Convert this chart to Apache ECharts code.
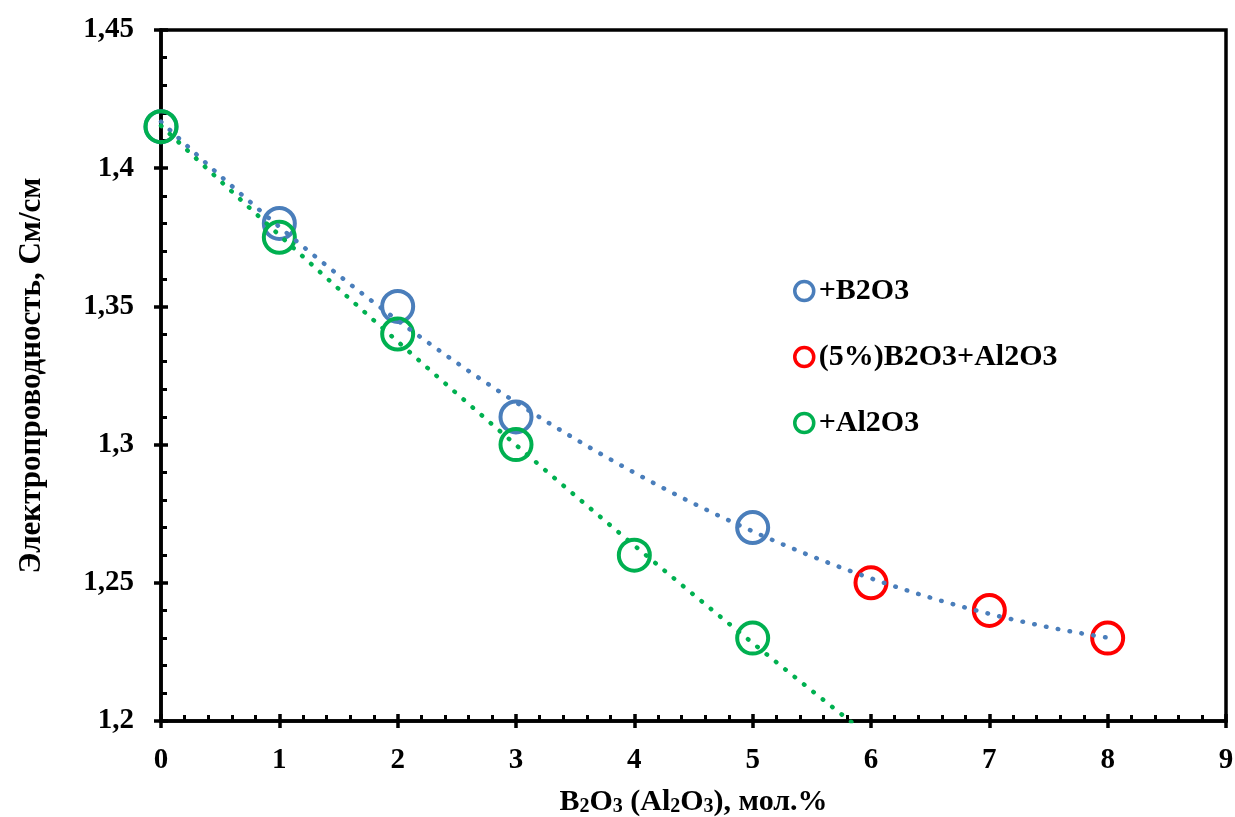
<!DOCTYPE html>
<html>
<head>
<meta charset="utf-8">
<script src="https://cdn.jsdelivr.net/npm/echarts@6/dist/echarts.min.js"></script>
<style>
  html, body { margin: 0; padding: 0; background: #ffffff; }
  #chart { width: 1235px; height: 817px; }
</style>
</head>
<body>
<div id="chart"></div>
<script>
// Measured conductivity, См/см
const b2o3X = [0, 1, 2, 3, 5];
const b2o3Y = [1.415, 1.38, 1.35, 1.31, 1.27];
const mixX = [6, 7, 8];
const mixY = [1.25, 1.24, 1.23];
const al2o3X = [0, 1, 2, 3, 4, 5];
const al2o3Y = [1.415, 1.375, 1.34, 1.30, 1.26, 1.23];

const seriesNames = ['+B2O3', '(5%)B2O3+Al2O3', '+Al2O3'];
const seriesColors = ['#4A7EBB', '#FF0000', '#00B050'];

const FONT = '"Liberation Serif", "Times New Roman", serif';

// least-squares polynomial of degree 2 (trend line)
function polyfit2(xs, ys) {
  let s = [0, 0, 0, 0, 0], t = [0, 0, 0];
  for (let i = 0; i < xs.length; i++) {
    let p = 1;
    for (let k = 0; k <= 4; k++) { s[k] += p; if (k <= 2) t[k] += p * ys[i]; p *= xs[i]; }
  }
  const A = [[s[0], s[1], s[2], t[0]], [s[1], s[2], s[3], t[1]], [s[2], s[3], s[4], t[2]]];
  for (let c = 0; c < 3; c++) {
    for (let r = c + 1; r < 3; r++) {
      const f = A[r][c] / A[c][c];
      for (let k = c; k < 4; k++) A[r][k] -= f * A[c][k];
    }
  }
  const co = [0, 0, 0];
  for (let r = 2; r >= 0; r--) {
    let v = A[r][3];
    for (let k = r + 1; k < 3; k++) v -= A[r][k] * co[k];
    co[r] = v / A[r][r];
  }
  return x => co[0] + co[1] * x + co[2] * x * x;
}

function trend(fn, x0, x1) {
  const pts = [];
  const n = 200;
  for (let i = 0; i <= n; i++) {
    const x = x0 + (x1 - x0) * i / n;
    pts.push([x, fn(x)]);
  }
  return pts;
}

const zip = (xs, ys) => xs.map((x, i) => [x, ys[i]]);

const blueFit = polyfit2(b2o3X.concat(mixX), b2o3Y.concat(mixY));
const greenFit = polyfit2(al2o3X, al2o3Y);

const chart = echarts.init(document.getElementById('chart'), null, { renderer: 'canvas' });

const textBase = { fontFamily: FONT, fontWeight: 'bold', color: '#000' };
const tickLabelStyle = Object.assign({ fontSize: 29 }, textBase);
const lineBlack = { show: true, lineStyle: { color: '#000', width: 3.5 } };

function markerSeries(name, data, color) {
  return {
    name, type: 'scatter', data, xAxisIndex: 0, yAxisIndex: 0,
    symbol: 'circle', symbolSize: 31,
    itemStyle: { color: 'rgba(255,255,255,0)', borderColor: color, borderWidth: 4, opacity: 1 },
    z: 3
  };
}

function trendSeries(data, color) {
  return {
    type: 'line', data, xAxisIndex: 0, yAxisIndex: 0,
    showSymbol: false, symbol: 'none', clip: true, silent: true,
    lineStyle: { color, width: 4.5, type: [0.5, 11.5], cap: 'round' },
    z: 4
  };
}

chart.setOption({
  animation: false,
  backgroundColor: '#ffffff',
  grid: {
    left: 161, right: 9, top: 30, bottom: 96,
    outerBoundsMode: 'none', containLabel: false,
    show: true, borderColor: '#000', borderWidth: 3.5, backgroundColor: 'transparent'
  },
  legend: {
    orient: 'vertical', left: 788, top: 271, itemGap: 36,
    itemWidth: 19, itemHeight: 19,
    textStyle: Object.assign({ fontSize: 30 }, textBase),
    data: seriesNames.map((n, i) => ({
      name: n, icon: 'circle',
      itemStyle: { color: '#ffffff', borderColor: seriesColors[i], borderWidth: 3.5 }
    }))
  },
  xAxis: [
    {
      type: 'value', min: 0, max: 9, interval: 1, position: 'bottom',
      axisLine: lineBlack,
      axisTick: { show: true, inside: false, length: 7, lineStyle: { color: '#000', width: 3.5 } },
      axisLabel: Object.assign({ margin: 25 }, tickLabelStyle),
      splitLine: { show: false },
      name: '{n|B}{s|2}{n|O}{s|3}{n| (Al}{s|2}{n|O}{s|3}{n|), мол.%}',
      nameLocation: 'middle', nameGap: 62,
      nameTextStyle: {
        rich: {
          n: Object.assign({ fontSize: 30, verticalAlign: 'bottom', lineHeight: 34 }, textBase),
          s: Object.assign({ fontSize: 20, verticalAlign: 'bottom', lineHeight: 20, padding: [8, 0, 0, 0] }, textBase)
        }
      }
    },
    {
      type: 'value', min: 0, max: 9, interval: 1, position: 'bottom',
      axisLine: { show: false },
      axisTick: { show: true, inside: true, length: 7, lineStyle: { color: '#000', width: 3.5 } },
      minorTick: { show: true, splitNumber: 5, length: 6, lineStyle: { color: '#000', width: 3 } },
      axisLabel: { show: false },
      splitLine: { show: false }
    }
  ],
  yAxis: [
    {
      type: 'value', min: 1.2, max: 1.45, interval: 0.05, position: 'left',
      axisLine: lineBlack,
      axisTick: { show: true, inside: false, length: 7, lineStyle: { color: '#000', width: 3.5 } },
      axisLabel: Object.assign({
        margin: 27,
        formatter: v => String(+v.toFixed(2)).replace('.', ',')
      }, tickLabelStyle),
      splitLine: { show: false },
      name: 'Электропроводность, См/см',
      nameLocation: 'middle', nameGap: 114,
      nameTextStyle: Object.assign({ fontSize: 31 }, textBase)
    },
    {
      type: 'value', min: 1.2, max: 1.45, interval: 0.05, position: 'left',
      axisLine: { show: false },
      axisTick: { show: true, inside: true, length: 7, lineStyle: { color: '#000', width: 3.5 } },
      minorTick: { show: true, splitNumber: 5, length: 6, lineStyle: { color: '#000', width: 3 } },
      axisLabel: { show: false },
      splitLine: { show: false }
    }
  ],
  series: [
    markerSeries(seriesNames[0], zip(b2o3X, b2o3Y), seriesColors[0]),
    markerSeries(seriesNames[1], zip(mixX, mixY), seriesColors[1]),
    markerSeries(seriesNames[2], zip(al2o3X, al2o3Y), seriesColors[2]),
    trendSeries(trend(blueFit, 0, 8), seriesColors[0]),
    trendSeries(trend(greenFit, 0, 6), seriesColors[2])
  ]
});
</script>
</body>
</html>
